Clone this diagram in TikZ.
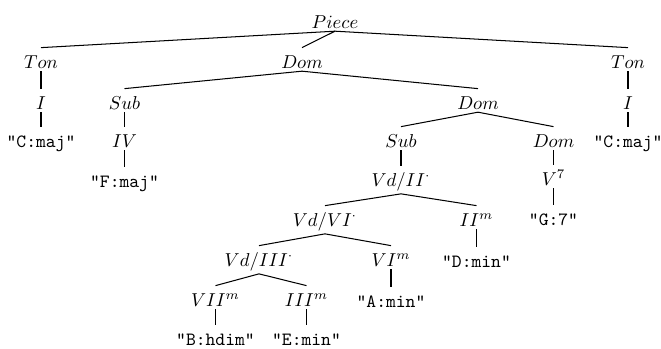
\documentclass[tikz,border=0pt]{standalone}
\usepackage{fontspec}
\begin{document}
\begin{tikzpicture}[x=0.535pt,y=-0.535pt,
  tn/.style={anchor=base,inner xsep=1pt,inner ysep=1.5pt,text height=9.2pt,font=\normalsize},
  lf/.style={anchor=base,inner xsep=1pt,inner ysep=1.5pt,text height=9.2pt,font=\ttfamily},
  edge/.style={line width=0.55pt}]
\useasboundingbox (0,0) rectangle (661,348);
% nodes
\node[tn] (piece) at (335,28) {$Piece$};
\node[tn] (ton1) at (41,68) {$Ton$};
\node[tn] (dom1) at (302,68) {$Dom$};
\node[tn] (ton2) at (628,68) {$Ton$};
\node[tn] (i1) at (41,109) {$I$};
\node[tn] (sub1) at (124.5,109) {$Sub$};
\node[tn] (dom2) at (478,109) {$Dom$};
\node[tn] (i2) at (628,109) {$I$};
\node[lf] (cmaj1) at (41,147) {"C:maj"};
\node[tn] (iv) at (124.5,147) {$IV$};
\node[tn] (sub2) at (401,147) {$Sub$};
\node[tn] (dom3) at (553.5,147) {$Dom$};
\node[lf] (cmaj2) at (628,147) {"C:maj"};
\node[lf] (fmaj) at (124.5,187) {"F:maj"};
\node[tn] (vdii) at (401,186) {$Vd/II^{\cdot}$};
\node[tn] (v7) at (553.5,185) {$V^7$};
\node[tn] (vdvi) at (325,226) {$Vd/VI^{\cdot}$};
\node[tn] (iim) at (476.5,226) {$II^m$};
\node[lf] (g7) at (553.5,225) {"G:7"};
\node[tn] (vdiii) at (259,266) {$Vd/III^{\cdot}$};
\node[tn] (vim) at (391,266) {$VI^m$};
\node[lf] (dmin) at (476.5,267) {"D:min"};
\node[tn] (viim) at (215.5,306) {$VII^m$};
\node[tn] (iiim) at (306.5,306) {$III^m$};
\node[lf] (amin) at (391,307) {"A:min"};
\node[lf] (bhdim) at (215.5,345) {"B:hdim"};
\node[lf] (emin) at (306.5,345) {"E:min"};
% edges
\draw[edge] (piece.south) -- (ton1.north);
\draw[edge] (piece.south) -- (dom1.north);
\draw[edge] (piece.south) -- (ton2.north);
\draw[edge] (ton1.south) -- (i1.north);
\draw[edge] (i1.south) -- (cmaj1.north);
\draw[edge] (ton2.south) -- (i2.north);
\draw[edge] (i2.south) -- (cmaj2.north);
\draw[edge] (dom1.south) -- (sub1.north);
\draw[edge] (dom1.south) -- (dom2.north);
\draw[edge] (sub1.south) -- (iv.north);
\draw[edge] (iv.south) -- (fmaj.north);
\draw[edge] (dom2.south) -- (sub2.north);
\draw[edge] (dom2.south) -- (dom3.north);
\draw[edge] (dom3.south) -- (v7.north);
\draw[edge] (v7.south) -- (g7.north);
\draw[edge] (sub2.south) -- (vdii.north);
\draw[edge] (vdii.south) -- (vdvi.north);
\draw[edge] (vdii.south) -- (iim.north);
\draw[edge] (iim.south) -- (dmin.north);
\draw[edge] (vdvi.south) -- (vdiii.north);
\draw[edge] (vdvi.south) -- (vim.north);
\draw[edge] (vim.south) -- (amin.north);
\draw[edge] (vdiii.south) -- (viim.north);
\draw[edge] (vdiii.south) -- (iiim.north);
\draw[edge] (viim.south) -- (bhdim.north);
\draw[edge] (iiim.south) -- (emin.north);
\end{tikzpicture}
\end{document}
